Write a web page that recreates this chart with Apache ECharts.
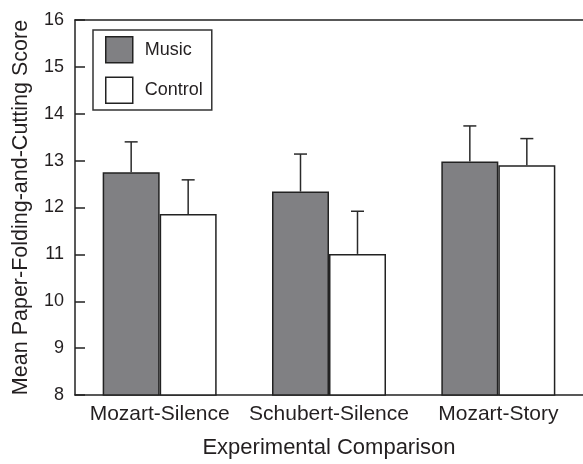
<!DOCTYPE html>
<html>
<head>
<meta charset="utf-8">
<script src="https://cdn.jsdelivr.net/npm/echarts@6/dist/echarts.min.js"></script>
<style>html,body{margin:0;padding:0;background:#fff}#c{width:583px;height:464px}</style>
</head>
<body>
<div id="c"></div>
<script>
var categories = ['Mozart-Silence', 'Schubert-Silence', 'Mozart-Story'];
var musicMeans = [12.75, 12.34, 12.98];
var musicErrTop = [13.40, 13.14, 13.74];
var controlMeans = [11.86, 11.01, 12.90];
var controlErrTop = [12.59, 11.92, 13.47];
var yTicks = [8, 9, 10, 11, 12, 13, 14, 15, 16];

var BAR_W = 57;
var FONT = 'Liberation Sans, Arial, Helvetica, sans-serif';
var INK = '#231f20';

function errSeries(means, tops, side) {
  var data = means.map(function (m, i) { return [i, m, tops[i]]; });
  return {
    type: 'custom',
    xAxisIndex: 0,
    yAxisIndex: 0,
    z: 5,
    silent: true,
    data: data,
    renderItem: function (params, api) {
      var i = api.value(0);
      var p0 = api.coord([i, api.value(1)]);
      var p1 = api.coord([i, api.value(2)]);
      var x = p0[0] + side * BAR_W / 2;
      var cap = 6.5;
      var st = { stroke: '#2a2a2a', lineWidth: 1.5 };
      return {
        type: 'group',
        children: [
          { type: 'line', shape: { x1: x, y1: p0[1], x2: x, y2: p1[1] }, style: st },
          { type: 'line', shape: { x1: x - cap, y1: p1[1], x2: x + cap, y2: p1[1] }, style: st }
        ]
      };
    }
  };
}

var chart = echarts.init(document.getElementById('c'));
chart.setOption({
  animation: false,
  backgroundColor: '#fff',
  grid: { left: 75, top: 20, width: 511.5, height: 384.3, containLabel: false },
  legend: {
    orient: 'vertical',
    left: 93, top: 30,
    data: [
      { name: 'Music', itemStyle: { color: '#808083', borderColor: '#222', borderWidth: 1.5 } },
      { name: 'Control', itemStyle: { color: '#ffffff', borderColor: '#222', borderWidth: 1.5 } }
    ],
    icon: 'rect',
    itemWidth: 27, itemHeight: 26, itemGap: 13,
    padding: [6, 9, 6, 12],
    borderColor: '#333', borderWidth: 1.5,
    textStyle: { fontFamily: FONT, fontSize: 18, color: INK, padding: [0, 0, 0, 7] }
  },
  xAxis: [{
    type: 'category',
    data: categories,
    position: 'bottom',
    name: 'Experimental Comparison',
    nameLocation: 'middle',
    nameGap: 42,
    nameTextStyle: { fontFamily: FONT, fontSize: 22, color: INK },
    axisLine: { lineStyle: { color: '#222', width: 1.5 } },
    axisTick: { show: false },
    axisLabel: { fontFamily: FONT, fontSize: 21, color: INK, margin: 9, interval: 0 }
  }, {
    type: 'category',
    data: categories,
    position: 'top',
    axisLine: { lineStyle: { color: '#222', width: 1.5 } },
    axisTick: { show: false },
    axisLabel: { show: false }
  }],
  yAxis: {
    type: 'value',
    min: 8, max: 16, interval: 1,
    name: 'Mean Paper-Folding-and-Cutting Score',
    nameLocation: 'middle',
    nameGap: 43,
    nameTextStyle: { fontFamily: FONT, fontSize: 21.5, color: INK },
    axisLine: { show: true, lineStyle: { color: '#222', width: 1.5 } },
    axisTick: { show: true, inside: true, length: 10, lineStyle: { color: '#222', width: 1.5 } },
    splitLine: { show: false },
    axisLabel: {
      fontFamily: FONT, fontSize: 18, color: INK, margin: 11,
      formatter: function (v) { return yTicks.indexOf(v) >= 0 ? String(v) : ''; }
    }
  },
  series: [
    {
      name: 'Music', type: 'bar', data: musicMeans, barWidth: BAR_W, barGap: '0%',
      itemStyle: { color: '#808083', borderColor: '#222', borderWidth: 1.5 }
    },
    {
      name: 'Control', type: 'bar', data: controlMeans, barWidth: BAR_W, barGap: '0%',
      itemStyle: { color: '#ffffff', borderColor: '#222', borderWidth: 1.5 }
    },
    errSeries(musicMeans, musicErrTop, -1),
    errSeries(controlMeans, controlErrTop, 1)
  ]
});
</script>
</body>
</html>
